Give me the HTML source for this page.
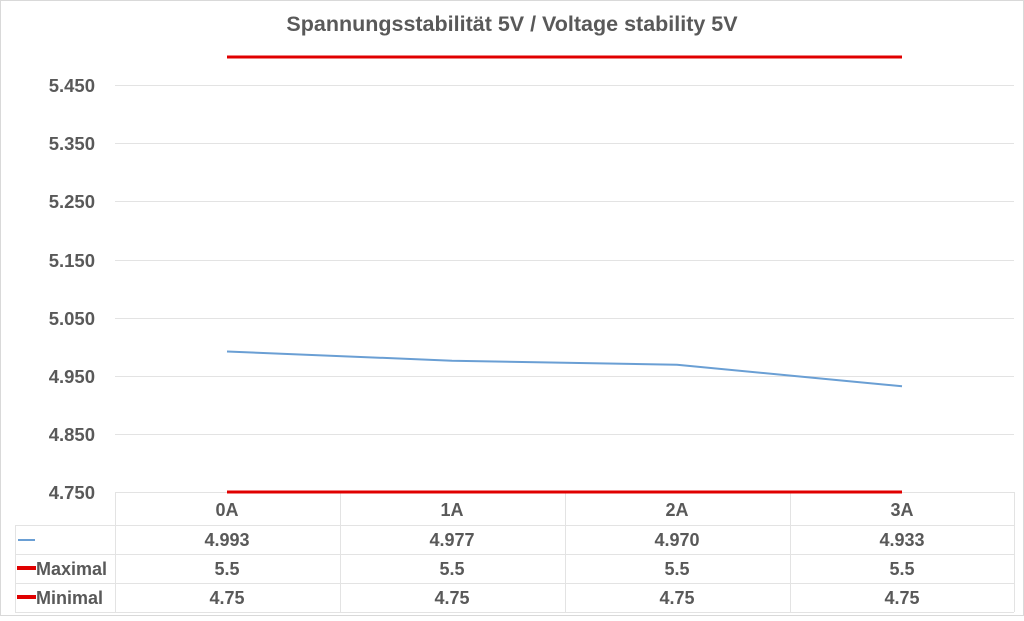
<!DOCTYPE html>
<html><head><meta charset="utf-8"><style>
body{margin:0;background:#fff}
svg text{font-family:"Liberation Sans",sans-serif;fill:#595959;font-weight:bold}
</style></head><body>
<svg width="1024" height="616" xmlns="http://www.w3.org/2000/svg">
<rect x="0.5" y="0.5" width="1023" height="615" fill="#fff" stroke="#d9d9d9"/>
<text x="512" y="31" font-size="21.5" text-anchor="middle">Spannungsstabilität 5V / Voltage stability 5V</text>
<g stroke="#e3e3e3" stroke-width="1">
<line x1="115" x2="1014" y1="85.5" y2="85.5"/>
<line x1="115" x2="1014" y1="143.5" y2="143.5"/>
<line x1="115" x2="1014" y1="201.5" y2="201.5"/>
<line x1="115" x2="1014" y1="260.5" y2="260.5"/>
<line x1="115" x2="1014" y1="318.5" y2="318.5"/>
<line x1="115" x2="1014" y1="376.5" y2="376.5"/>
<line x1="115" x2="1014" y1="434.5" y2="434.5"/>
<line x1="115.5" x2="115.5" y1="492" y2="612"/>
<line x1="340.5" x2="340.5" y1="492" y2="612"/>
<line x1="565.5" x2="565.5" y1="492" y2="612"/>
<line x1="790.5" x2="790.5" y1="492" y2="612"/>
<line x1="1014.5" x2="1014.5" y1="492" y2="612"/>
<line x1="115" x2="1014" y1="492.5" y2="492.5"/>
<line x1="15" x2="1014" y1="525.5" y2="525.5"/>
<line x1="15" x2="1014" y1="554.5" y2="554.5"/>
<line x1="15" x2="1014" y1="583.5" y2="583.5"/>
<line x1="15" x2="1014" y1="612.5" y2="612.5"/>
<line x1="15.5" x2="15.5" y1="525" y2="612"/>
</g>
<g font-size="18.5" text-anchor="end">
<text x="95" y="92">5.450</text><text x="95" y="150">5.350</text><text x="95" y="208">5.250</text>
<text x="95" y="267">5.150</text><text x="95" y="325">5.050</text><text x="95" y="383">4.950</text>
<text x="95" y="441">4.850</text><text x="95" y="499">4.750</text>
</g>
<line x1="227" x2="902" y1="57" y2="57" stroke="#e00000" stroke-width="3"/>
<line x1="227" x2="902" y1="492" y2="492" stroke="#e00000" stroke-width="3"/>
<polyline points="227,351.5 452,360.7 677,364.8 902,386.3" fill="none" stroke="#6a9fd4" stroke-width="2"/>
<g font-size="18" text-anchor="middle">
<text x="227" y="516">0A</text><text x="452" y="516">1A</text><text x="677" y="516">2A</text><text x="902" y="516">3A</text>
<text x="227" y="546">4.993</text><text x="452" y="546">4.977</text><text x="677" y="546">4.970</text><text x="902" y="546">4.933</text>
<text x="227" y="575">5.5</text><text x="452" y="575">5.5</text><text x="677" y="575">5.5</text><text x="902" y="575">5.5</text>
<text x="227" y="604">4.75</text><text x="452" y="604">4.75</text><text x="677" y="604">4.75</text><text x="902" y="604">4.75</text>
</g>
<line x1="18" x2="35" y1="540" y2="540" stroke="#6a9fd4" stroke-width="2"/>
<line x1="17" x2="36" y1="568" y2="568" stroke="#e00000" stroke-width="4"/>
<line x1="17" x2="36" y1="597" y2="597" stroke="#e00000" stroke-width="4"/>
<text x="36" y="575" font-size="18">Maximal</text>
<text x="36" y="604" font-size="18">Minimal</text>
</svg>
</body></html>
